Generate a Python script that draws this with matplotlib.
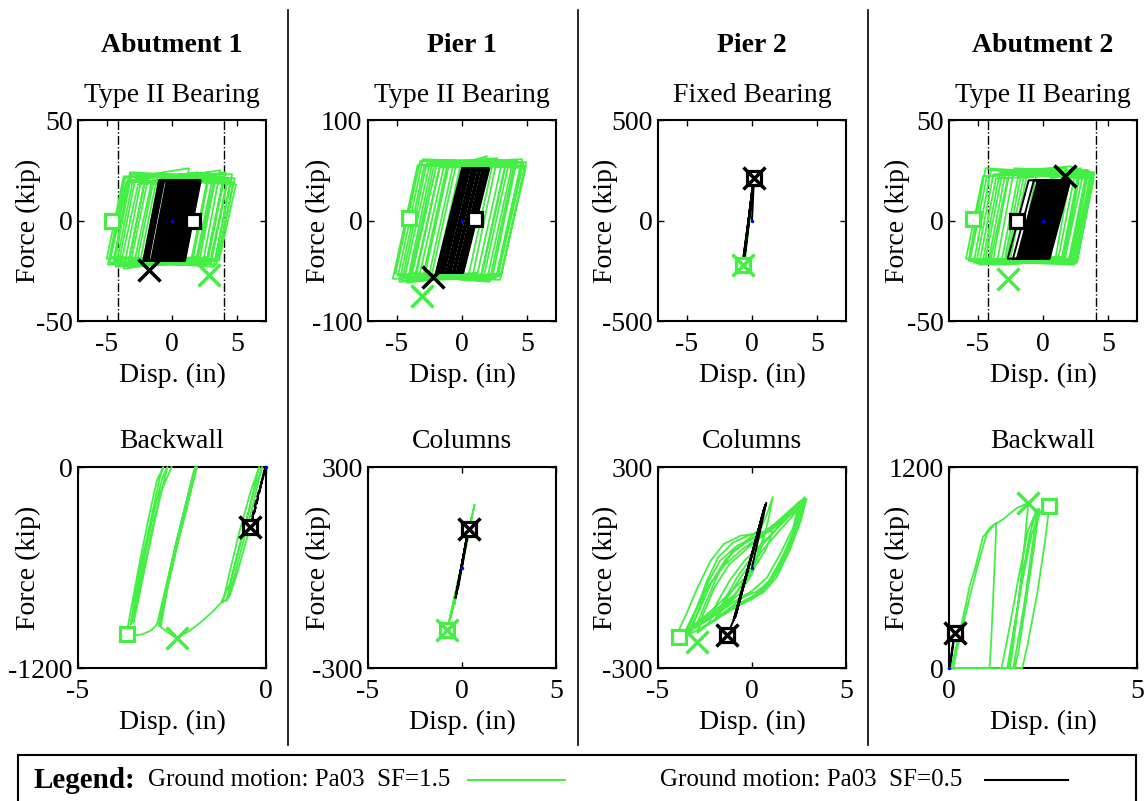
import matplotlib.pyplot as plt
from matplotlib.lines import Line2D
from matplotlib.patches import Rectangle

plt.rcParams['font.family'] = ['Liberation Serif', 'DejaVu Serif']
plt.rcParams['axes.unicode_minus'] = False

GREEN = '#44ee44'

columns = ['Abutment 1', 'Pier 1', 'Pier 2', 'Abutment 2']
top_titles = ['Type II Bearing', 'Type II Bearing', 'Fixed Bearing', 'Type II Bearing']
bottom_titles = ['Backwall', 'Columns', 'Columns', 'Backwall']
legend_labels = ['Ground motion: Pa03  SF=1.5', 'Ground motion: Pa03  SF=0.5']

# force-displacement paths, (disp in, force kip)
ab1_brg_sf15 = [
    (0.0, 0), (0.6, 19),
    (1.6, 20), (0.3, -19), (-1.9, -20), (-0.6, 19),
    (3.3, 22), (2.0, -18), (-2.7, -21), (-1.4, 20),
    (4.9, 18), (3.6, -20), (-4.1, -22), (-2.8, 21),
    (2.9, 24), (1.6, -19), (-5.0, -19), (-3.7, 22),
    (4.3, 21), (3.0, -21), (-3.4, -23), (-2.1, 19),
    (3.7, 25), (2.4, -20), (-4.7, -18), (-3.4, 20),
    (4.7, 19), (3.4, -22), (-2.2, -20), (-0.9, 21),
    (2.3, 23), (1.0, -18), (-3.9, -21), (-2.6, 18),
    (4.0, 22), (2.7, -19), (-4.9, -22), (-3.6, 21),
    (1.3, 26), (0.0, -20), (-3.1, -19), (-1.8, 22),
    (4.5, 20), (3.2, -23), (-4.4, -20), (-3.1, 23),
    (3.1, 21), (1.8, -21), (-1.6, -22), (-0.3, 20),
    (4.1, 24), (2.8, -18), (-3.7, -24), (-2.4, 19),
    (2.7, 20), (1.4, -22), (-4.5, -21), (-3.2, 24),
    (4.8, 21), (3.5, -19), (-2.9, -21), (-1.6, 18),
    (3.4, 23), (2.1, -20), (-4.8, -21), (-3.5, 19),
    (3.9, 20), (2.6, -22), (-2.4, -19), (-1.1, 23),
    (4.6, 23), (3.3, -20), (-4.3, -23), (-3.0, 20),
    (2.0, 24), (0.7, -21), (-3.3, -20), (-2.0, 22),
    (4.2, 19), (2.9, -21),
]
ab1_brg_sf05 = [
    (0.0, 0), (0.6, 20),
    (1.0, 20), (-0.2, -20), (-0.8, -20), (0.4, 20),
    (0.6, 20), (-0.6, -20), (-1.4, -20), (-0.2, 20),
    (1.8, 20), (0.6, -20), (-0.6, -20), (0.6, 20),
    (0.8, 20), (-0.4, -20), (-2.2, -20), (-1.0, 20),
    (1.4, 20), (0.2, -20), (-1.0, -20), (0.2, 20),
    (2.2, 20), (1.0, -20), (-1.8, -20), (-0.6, 20),
    (0.4, 20), (-0.8, -20), (-0.9, -20), (0.3, 20),
    (1.2, 20), (0.0, -20), (-2.0, -20), (-0.8, 20),
    (1.6, 20), (0.4, -20), (-0.4, -20), (0.8, 20),
    (2.0, 20), (0.8, -20), (-1.2, -20), (0.0, 20),
    (0.9, 20), (-0.3, -20), (-1.6, -20), (-0.4, 20),
    (1.1, 20), (-0.1, -20), (-0.5, -20), (0.7, 20),
    (1.9, 20), (0.7, -20), (-1.3, -20), (-0.1, 20),
    (0.5, 20), (-0.7, -20), (-2.1, -20), (-0.9, 20),
    (1.7, 20), (0.5, -20), (-0.7, -20), (0.5, 20),
    (1.3, 20), (0.1, -20), (-1.5, -20), (-0.3, 20),
    (2.1, 20), (0.9, -20), (-1.1, -20), (0.1, 20),
    (0.7, 20), (-0.5, -20), (-1.9, -20), (-0.7, 20),
    (1.5, 20), (0.3, -20), (-0.3, -20), (0.9, 20),
    (1.0, 20), (0.5, 0),
]
p1_brg_sf15 = [
    (0.0, 0), (0.9, 52),
    (2.0, 55), (0.1, -52), (-2.0, -54), (-0.1, 56),
    (3.4, 58), (1.5, -55), (-3.3, -57), (-1.4, 53),
    (4.9, 54), (3.0, -53), (-4.6, -60), (-2.7, 57),
    (2.7, 62), (0.8, -56), (-5.3, -58), (-3.4, 55),
    (4.2, 60), (2.3, -58), (-3.8, -52), (-1.9, 58),
    (3.8, 53), (1.9, -60), (-4.9, -55), (-3.0, 61),
    (4.7, 57), (2.8, -53), (-2.6, -59), (-0.7, 54),
    (1.9, 64), (0.0, -54), (-4.2, -62), (-2.3, 56),
    (4.5, 55), (2.6, -57), (-5.1, -53), (-3.2, 59),
    (3.1, 60), (1.2, -52), (-3.0, -56), (-1.1, 57),
    (4.8, 52), (2.9, -59), (-4.4, -57), (-2.5, 55),
    (3.6, 58), (1.7, -54), (-2.3, -53), (-0.4, 59),
    (4.0, 56), (2.1, -61), (-3.6, -55), (-1.7, 53),
    (2.4, 59), (0.5, -55), (-4.0, -58), (-2.1, 57),
    (4.6, 61), (2.7, -56), (-4.8, -61), (-2.9, 54),
    (3.3, 55), (1.4, -58), (-3.5, -54), (-1.6, 60),
    (4.9, 58), (3.0, -55), (-2.9, -57), (-1.0, 55),
]
p1_brg_sf05 = [
    (0.0, 0), (1.0, 52),
    (2.1, 52), (0.1, -52), (-0.4, -52), (1.6, 52),
    (1.8, 52), (-0.2, -52), (-0.6, -52), (1.4, 52),
    (1.6, 52), (-0.4, -52), (-0.9, -52), (1.1, 52),
    (1.3, 52), (-0.7, -52), (-1.1, -52), (0.9, 52),
    (1.0, 52), (-1.0, -52), (-1.4, -52), (0.6, 52),
    (0.8, 52), (-1.2, -52), (-1.6, -52), (0.4, 52),
    (0.5, 52), (-1.5, -52), (-1.9, -52), (0.1, 52),
    (0.2, 52), (-1.8, -52), (-2.0, -52), (0.0, 52),
    (0.3, 52), (-1.7, -52), (-1.8, -52), (0.2, 52),
    (0.6, 52), (-1.4, -52), (-1.5, -52), (0.5, 52),
    (0.9, 52), (-1.1, -52), (-1.2, -52), (0.8, 52),
    (1.1, 52), (-0.9, -52), (-1.0, -52), (1.0, 52),
    (1.4, 52), (-0.6, -52), (-0.7, -52), (1.3, 52),
    (1.7, 52), (-0.3, -52), (-0.35, -52), (1.65, 52),
    (2.0, 52), (0.0, -52), (-0.1, -52), (1.9, 52),
    (1.95, 52), (0.95, 0),
]
p2_brg_sf15 = [(0.0, 0), (0.1, 180), (-0.65, -225), (0.05, 150), (-0.55, -200),
               (0.12, 195), (-0.7, -228), (0.0, 100)]
p2_brg_sf05 = [(0.0, 0), (0.15, 212), (-0.6, -185), (0.1, 205), (-0.55, -170),
               (0.18, 210), (-0.65, -180), (0.12, 200), (-0.5, -150)]
ab2_brg_sf15 = [
    (0.0, 0), (0.6, 21),
    (1.5, 22), (0.2, -19), (-1.8, -20), (-0.5, 23),
    (2.8, 24), (1.5, -20), (-3.2, -21), (-1.9, 22),
    (3.9, 23), (2.6, -19), (-4.6, -20), (-3.3, 24),
    (2.2, 27), (0.9, -21), (-5.9, -19), (-4.6, 22),
    (3.5, 25), (2.2, -20), (-3.9, -22), (-2.6, 23),
    (3.0, 21), (1.7, -18), (-5.3, -21), (-4.0, 25),
    (3.8, 22), (2.5, -21), (-2.5, -19), (-1.2, 24),
    (1.8, 26), (0.5, -20), (-4.9, -22), (-3.6, 21),
    (3.3, 23), (2.0, -19), (-3.5, -20), (-2.2, 26),
    (3.7, 24), (2.4, -22), (-5.6, -20), (-4.3, 22),
    (2.5, 25), (1.2, -18), (-4.2, -21), (-2.9, 23),
    (3.6, 22), (2.3, -20), (-2.8, -20), (-1.5, 21),
    (2.9, 26), (1.6, -21), (-4.4, -19), (-3.1, 24),
    (3.9, 21), (2.6, -20), (-5.1, -21), (-3.8, 23),
    (3.4, 25), (2.1, -19), (-3.0, -22), (-1.7, 22),
    (3.9, 24), (2.6, -21), (-5.7, -20), (-4.4, 26),
    (2.7, 23), (1.4, -20), (-4.0, -19), (-2.7, 21),
]
ab2_brg_sf05 = [
    (0.0, 0), (0.8, 20),
    (2.1, 20), (0.5, -19), (-0.4, -19), (1.2, 20),
    (1.9, 20), (0.3, -19), (-0.6, -19), (1.0, 20),
    (1.7, 20), (0.1, -19), (-0.8, -19), (0.8, 20),
    (1.5, 20), (-0.1, -19), (-1.0, -19), (0.6, 20),
    (1.3, 20), (-0.3, -19), (-1.2, -19), (0.4, 20),
    (1.1, 20), (-0.5, -19), (-1.4, -19), (0.2, 20),
    (0.9, 20), (-0.7, -19), (-1.6, -19), (0.0, 20),
    (0.7, 20), (-0.9, -19), (-1.8, -19), (-0.2, 20),
    (0.5, 20), (-1.1, -19), (-2.0, -19), (-0.4, 20),
    (0.4, 20), (-1.2, -19), (-2.3, -19), (-0.7, 20),
    (0.6, 20), (-1.0, -19), (-2.7, -19), (-1.1, 20),
    (0.8, 20), (-0.8, -19), (-1.9, -19), (-0.3, 20),
    (1.0, 20), (-0.6, -19), (-1.7, -19), (-0.1, 20),
    (1.2, 20), (-0.4, -19), (-1.5, -19), (0.1, 20),
    (1.4, 20), (-0.2, -19), (-1.3, -19), (0.3, 20),
    (1.6, 20), (0.0, -19), (-1.1, -19), (0.5, 20),
    (1.8, 20), (0.2, -19), (-0.9, -19), (0.7, 20),
    (2.0, 20), (0.4, -19), (-0.7, -19), (0.9, 20),
    (1.3, 20), (-0.3, -19), (-0.5, -19), (1.1, 20),
    (1.85, 20), (0.25, -19),
]
ab1_bw_sf15 = [
    (0.0, 0), (-0.05, -30), (-0.25, -200), (-0.5, -420), (-0.75, -620), (-0.95, -760), (-1.05, -800),
    (-0.9, -650), (-0.6, -380), (-0.3, -130), (-0.1, 0),
    (-0.15, -40), (-0.35, -230), (-0.62, -460), (-0.85, -660), (-1.0, -780), (-1.15, -810),
    (-0.98, -640), (-0.7, -380), (-0.4, -140), (-0.18, 0),
    (-0.25, -60), (-0.45, -260), (-0.7, -470), (-0.95, -690), (-1.2, -812),
    (-1.45, -870), (-1.75, -930), (-2.05, -980), (-2.38, -1020), (-2.6, -990), (-2.8, -955),
    (-2.6, -700), (-2.35, -450), (-2.1, -230), (-1.9, -60), (-1.84, 0),
    (-1.9, -40), (-2.1, -240), (-2.35, -460), (-2.6, -700), (-2.85, -950),
    (-2.62, -690), (-2.38, -440), (-2.13, -220), (-1.95, -50), (-1.88, 0),
    (-1.95, -60), (-2.2, -280), (-2.5, -560), (-2.9, -940),
    (-3.05, -975), (-3.3, -1000), (-3.55, -1005), (-3.71, -997),
    (-3.55, -800), (-3.35, -560), (-3.1, -280), (-2.9, -80), (-2.73, 0),
    (-2.82, -60), (-3.05, -300), (-3.3, -560), (-3.5, -800), (-3.6, -940),
    (-3.42, -760), (-3.2, -500), (-2.95, -240), (-2.75, -60), (-2.62, 0),
    (-2.7, -70), (-2.95, -310), (-3.2, -580), (-3.42, -820), (-3.53, -930),
    (-3.33, -700), (-3.05, -400), (-2.8, -150), (-2.51, 0),
]
ab1_bw_sf05 = [(0.0, 0), (-0.1, -80), (-0.25, -220), (-0.42, -358), (-0.3, -230),
               (-0.12, -90), (-0.02, 0), (-0.15, -120), (-0.32, -280), (-0.42, -358),
               (-0.2, -160), (0.0, 0)]
p1_col_sf15 = [(0.0, 0), (0.35, 100), (-0.4, -110), (0.5, 150), (-0.6, -150),
               (0.67, 188), (-0.8, -190), (0.2, 60)]
p1_col_sf05 = [(0.0, 0), (0.3, 100), (-0.35, -91), (0.35, 117), (-0.3, -80),
               (0.25, 90), (-0.2, -60)]
p2_col_sf15 = [
    (0.0, 0), (-1.0, -90), (-2.5, -160), (-4.0, -200),
    (-3.5, -140), (-2.9, -60), (-2.2, 20), (-1.5, 70), (-0.6, 95), (0.2, 100), (0.6, 90),
    (0.3, 40), (-0.2, -30), (-0.9, -80), (-1.8, -120), (-2.8, -165), (-3.6, -195),
    (-3.2, -150), (-2.5, -70), (-1.6, 0), (-0.5, 55), (0.6, 100), (1.6, 150), (2.4, 190), (2.8, 205),
    (2.5, 140), (1.9, 60), (1.2, -20), (0.5, -70), (-0.3, -100), (-1.2, -130), (-2.2, -165), (-2.9, -195),
    (-2.6, -140), (-2.0, -60), (-1.2, 10), (-0.2, 60), (0.9, 110), (1.9, 160), (2.6, 200),
    (2.3, 120), (1.6, 30), (0.9, -40), (0.2, -80), (-0.6, -105), (-1.6, -140), (-2.3, -170),
    (-1.9, -110), (-1.2, -40), (-0.4, 20), (0.5, 70), (1.4, 120), (2.3, 170), (2.9, 205),
    (2.6, 140), (2.0, 50), (1.3, -30), (0.6, -75), (-0.2, -95), (-1.1, -120), (-1.8, -150),
    (-1.3, -90), (-0.5, -20), (0.4, 40), (1.3, 100), (2.1, 150), (2.6, 185),
    (2.3, 110), (1.7, 30), (1.0, -40), (0.3, -70), (-0.5, -90), (-1.4, -130), (-2.0, -160),
    (-1.5, -100), (-0.8, -30), (0.1, 40), (1.0, 95), (1.8, 150), (2.5, 195),
    (2.2, 120), (1.5, 40), (0.8, -30), (0.0, -70), (-0.9, -100), (-1.9, -140), (-3.0, -180), (-3.5, -200),
    (-3.0, -130), (-2.4, -40), (-1.8, 30), (-1.0, 75), (0.0, 100), (0.9, 110), (1.1, 105),
    (0.7, 50), (0.0, -10), (-0.9, -60), (-1.8, -110), (-2.6, -150), (-3.2, -175),
    (-2.8, -120), (-2.3, -40), (-1.7, 20), (-0.8, 65), (0.3, 95), (1.5, 140), (2.4, 185), (2.7, 200),
    (2.4, 120), (1.8, 40), (1.0, -40), (0.2, -85), (-1.0, -120), (-2.1, -160), (-3.0, -190), (-3.4, -200),
    (-2.9, -140), (-2.2, -50), (-1.4, 25), (-0.4, 75), (0.5, 120), (0.8, 160), (1.1, 210),
    (0.9, 150), (0.5, 60), (0.0, -20), (-0.7, -80), (-1.5, -120), (-2.4, -155), (-3.0, -180),
    (-2.5, -110), (-1.8, -20), (-1.0, 50), (0.0, 85), (1.0, 110), (1.8, 150), (2.5, 190), (2.8, 210),
    (2.5, 130), (2.0, 60), (1.5, 0), (0.8, -60), (0.0, -95), (-0.8, -115), (-1.5, -140),
]
p2_col_sf05 = [(0.0, 0), (0.76, 193), (-0.97, -157), (0.7, 185), (-0.9, -150), (0.65, 178),
               (-0.85, -140), (0.72, 188), (-1.0, -160), (-1.3, -200)]
ab2_bw_sf15 = [
    (0.0, 0), (0.06, 0), (0.15, 90), (0.3, 230), (0.45, 380), (0.55, 490), (0.7, 600), (0.9, 780),
    (1.1, 840), (1.26, 866), (1.22, 650), (1.17, 400), (1.12, 150), (1.08, 0), (0.12, 0),
    (0.2, 100), (0.38, 260), (0.6, 470), (0.8, 640), (1.0, 800), (1.2, 855), (1.45, 890),
    (1.8, 955), (2.11, 985), (2.0, 720), (1.85, 400), (1.7, 120), (1.62, 0), (1.58, 0),
    (1.75, 250), (1.95, 550), (2.15, 800), (2.3, 920), (2.4, 950), (2.25, 700), (2.05, 400),
    (1.85, 100), (1.75, 0), (1.55, 0), (1.7, 200), (1.95, 520), (2.2, 800), (2.45, 940),
    (2.67, 969), (2.55, 750), (2.35, 450), (2.1, 150), (1.95, 0), (1.4, 0), (1.6, 230),
    (1.85, 540), (2.1, 820), (2.35, 950), (2.2, 700), (2.0, 380), (1.75, 50), (1.7, 0), (0.02, 0),
]
ab2_bw_sf05 = [(0.0, 0), (0.05, 60), (0.1, 140), (0.15, 209), (0.1, 120), (0.04, 30), (0.0, 0)]

# peak / end markers per panel (top row left->right, then bottom row)
sq_sf15 = [(-4.6, 0), (-4.05, 2), (-0.7, -222), (-5.4, 0.8), (-3.71, -997), (-0.8, -188), (-3.9, -207), (2.67, 969)]
x_sf15 = [(2.8, -27), (-3.1, -75), (-0.7, -222), (-2.7, -29), (-2.38, -1021), (-0.8, -188), (-2.9, -222), (2.11, 985)]
sq_sf05 = [(1.6, 0), (1.0, 1), (0.13, 212), (-2.0, 0), (-0.42, -358), (0.35, 114), (-1.33, -201), (0.15, 209)]
x_sf05 = [(-1.8, -24.5), (-2.2, -56), (0.13, 212), (1.67, 22), (-0.42, -358), (0.35, 114), (-1.33, -201), (0.15, 209)]
origin = (0.0, 0.0)

# bearing gap limits (in)
gap_ab1 = [-4.15, 4.0]
gap_ab2 = [-4.2, 4.05]

series15 = [ab1_brg_sf15, p1_brg_sf15, p2_brg_sf15, ab2_brg_sf15,
            ab1_bw_sf15, p1_col_sf15, p2_col_sf15, ab2_bw_sf15]
series05 = [ab1_brg_sf05, p1_brg_sf05, p2_brg_sf05, ab2_brg_sf05,
            ab1_bw_sf05, p1_col_sf05, p2_col_sf05, ab2_bw_sf05]
xlims = [(-7.2, 7.2)] * 4 + [(-5, 0), (-5, 5), (-5, 5), (0, 5)]
ylims = [(-50, 50), (-100, 100), (-500, 500), (-50, 50),
         (-1200, 0), (-300, 300), (-300, 300), (0, 1200)]
xticks = [[-5, 0, 5]] * 4 + [[-5, 0], [-5, 0, 5], [-5, 0, 5], [0, 5]]
yticks = [[-50, 0, 50], [-100, 0, 100], [-500, 0, 500], [-50, 0, 50],
          [-1200, 0], [-300, 300], [-300, 300], [0, 1200]]

W, H = 1144, 801
fig = plt.figure(figsize=(W / 100, H / 100), dpi=100)


def box(l, t, r, b):
    return [l / W, 1 - b / H, (r - l) / W, (b - t) / H]


lefts = [78, 368, 658, 949]
rows = [(120, 321), (467, 668)]
ylab_x = [28, 318, 605, 897]

for i in range(8):
    col, row = i % 4, i // 4
    t, b = rows[row]
    ax = fig.add_axes(box(lefts[col], t, lefts[col] + 188, b))
    x, y = zip(*series15[i])
    ax.plot(x, y, color=GREEN, lw=1.3, zorder=3, clip_on=False)
    x, y = zip(*series05[i])
    ax.plot(x, y, color='k', lw=1.4, ls='--' if i == 4 else '-', zorder=3, clip_on=False)
    ax.plot(*origin, '.', color='b', ms=3, zorder=3, clip_on=False)
    if i == 0:
        for g in gap_ab1:
            ax.axvline(g, color='k', lw=1, ls='-.')
    if i == 3:
        for g in gap_ab2:
            ax.axvline(g, color='k', lw=1, ls='-.')
    ax.plot(*sq_sf15[i], 's', ms=9.5, mfc='white', mec=GREEN, mew=2.3, clip_on=False, zorder=4)
    ax.plot(*x_sf15[i], 'x', ms=16, mec=GREEN, mew=2.5, clip_on=False, zorder=4)
    ax.plot(*sq_sf05[i], 's', ms=9.5, mfc='white', mec='k', mew=2.3, clip_on=False, zorder=4)
    ax.plot(*x_sf05[i], 'x', ms=16, mec='k', mew=2.5, clip_on=False, zorder=4)
    ax.set_xlim(xlims[i])
    ax.set_ylim(ylims[i])
    ax.set_xticks(xticks[i])
    ax.set_yticks(yticks[i])
    ax.tick_params(direction='in', top=True, right=True, length=4, width=1, labelsize=20, pad=4)
    ax.tick_params(axis='x', pad=8)
    for s in ax.spines.values():
        s.set_linewidth(1.5)
    ax.set_xlabel('Disp. (in)', fontsize=20, labelpad=4)
    cy = 1 - (t + b) / 2 / H
    fig.text(ylab_x[col] / W, cy, 'Force (kip)', rotation=90, ha='center', va='center', fontsize=20)
    cx = (lefts[col] + 94) / W
    if row == 0:
        fig.text(cx, 1 - 45 / H, columns[col], ha='center', va='center', fontsize=20, fontweight='bold')
        fig.text(cx, 1 - 95 / H, top_titles[col], ha='center', va='center', fontsize=20)
    else:
        fig.text(cx, 1 - 441 / H, bottom_titles[col], ha='center', va='center', fontsize=20)

# column separators
for sx in [288, 578, 868]:
    fig.add_artist(Line2D([sx / W, sx / W], [1 - 10 / H, 1 - 745 / H], color='k', lw=1.2))

# legend box
fig.add_artist(Rectangle((18 / W, -0.05), (1136 - 18) / W, 0.05 + 1 - 755 / H,
                         fill=False, ec='k', lw=1.5))
ly = 1 - 780 / H
fig.text(33 / W, ly, 'Legend:', fontsize=21, fontweight='bold', va='center')
fig.text(148 / W, ly, legend_labels[0], fontsize=18, va='center')
fig.add_artist(Line2D([468 / W, 565 / W], [ly, ly], color=GREEN, lw=1.5))
fig.text(660 / W, ly, legend_labels[1], fontsize=18, va='center')
fig.add_artist(Line2D([985 / W, 1068 / W], [ly, ly], color='k', lw=1.5))

fig.savefig('out.png', dpi=100)
